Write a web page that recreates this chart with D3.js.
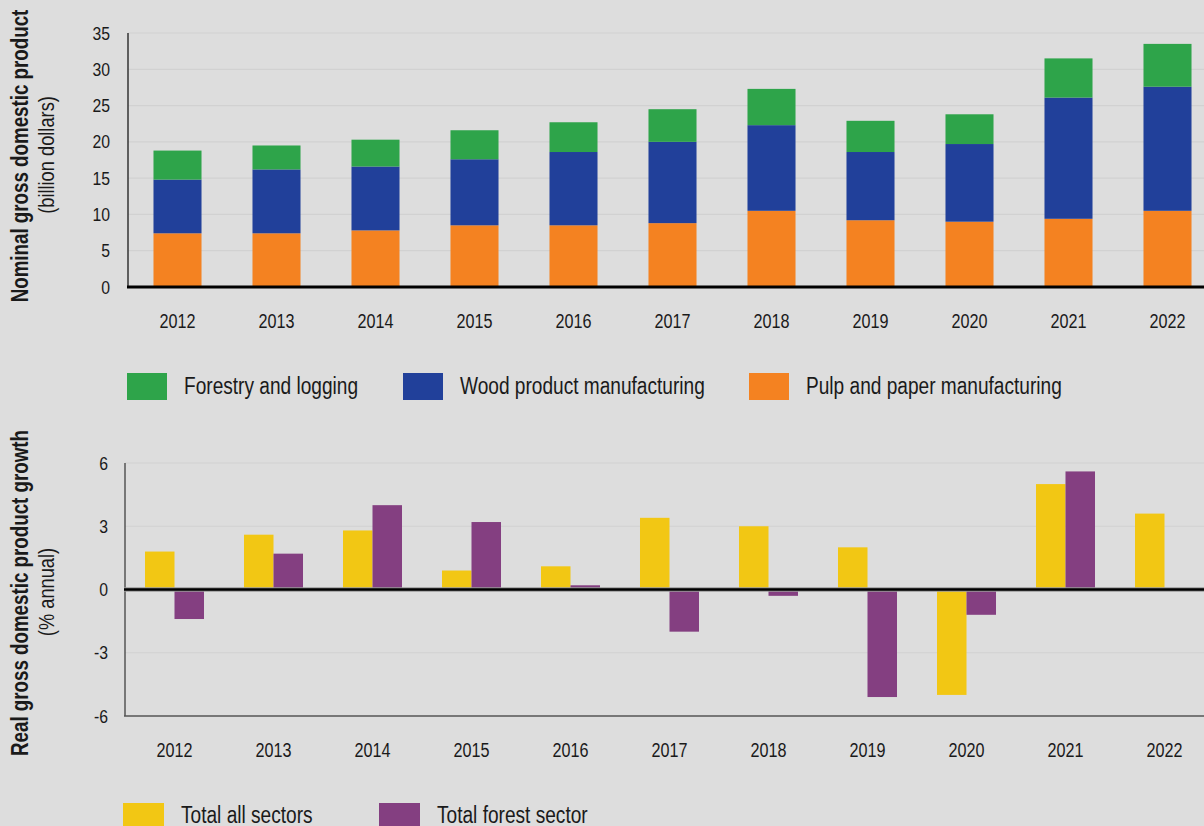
<!DOCTYPE html>
<html>
<head>
<meta charset="utf-8">
<script src="https://cdn.jsdelivr.net/npm/d3@7"></script>
<style>
  html, body { margin: 0; padding: 0; background: #dddddd; }
  svg { display: block; }
  text { font-family: "Liberation Sans", Arial, sans-serif; fill: #1a1a1a; }
</style>
</head>
<body>
<svg id="chart" width="1204" height="826"></svg>
<script>
// Years shown on both panels
const years = ["2012", "2013", "2014", "2015", "2016", "2017", "2018", "2019", "2020", "2021", "2022"];

// Nominal GDP by industry, billion dollars
const pulpPaper = [7.4, 7.4, 7.8, 8.5, 8.5, 8.8, 10.5, 9.2, 9.0, 9.4, 10.5];
const woodProducts = [7.4, 8.8, 8.8, 9.1, 10.1, 11.2, 11.8, 9.4, 10.7, 16.7, 17.1];
const forestryLogging = [4.0, 3.3, 3.7, 4.0, 4.1, 4.5, 5.0, 4.3, 4.1, 5.4, 5.9];

// Real GDP growth, % annual
const allSectors = [1.8, 2.6, 2.8, 0.9, 1.1, 3.4, 3.0, 2.0, -5.0, 5.0, 3.6];
const forestSector = [-1.4, 1.7, 4.0, 3.2, 0.2, -2.0, -0.3, -5.1, -1.2, 5.6, null];

// Axis tick values
const topTicks = [0, 5, 10, 15, 20, 25, 30, 35];
const bottomTicks = [-6, -3, 0, 3, 6];

const colors = {
  forestry: "#2ea44a",
  wood: "#21409a",
  pulp: "#f48221",
  all: "#f2c714",
  forest: "#843f81"
};

const svg = d3.select("#chart");
const W = 1204;
const NARROW = 0.83;

// Squeeze text horizontally to get a condensed face
function condense(sel, f = NARROW) {
  sel.each(function () {
    const len = this.getComputedTextLength();
    this.setAttribute("textLength", (len * f).toFixed(2));
    this.setAttribute("lengthAdjust", "spacingAndGlyphs");
  });
}

// ---------- Upper panel: stacked nominal GDP ----------
const gUp = svg.append("g");
const xTop = d3.scaleBand().domain(years).range([128, 1217]).paddingInner(0.515).paddingOuter(0.2575);
const yTop = d3.scaleLinear().domain([0, 35]).range([287, 33]);

gUp.append("g")
  .selectAll("line").data(topTicks.filter(d => d > 0)).join("line")
  .attr("x1", 128).attr("x2", W)
  .attr("y1", d => yTop(d)).attr("y2", d => yTop(d))
  .attr("stroke", "#d1d1d1").attr("stroke-width", 1.2);

const stackRows = years.map((y, i) => ({ year: y, pulp: pulpPaper[i], wood: woodProducts[i], forestry: forestryLogging[i] }));
const stacked = d3.stack().keys(["pulp", "wood", "forestry"])(stackRows);

gUp.append("g").selectAll("g").data(stacked).join("g")
  .attr("fill", s => colors[s.key])
  .selectAll("rect").data(s => s).join("rect")
  .attr("x", d => xTop(d.data.year))
  .attr("width", xTop.bandwidth())
  .attr("y", d => yTop(d[1]))
  .attr("height", d => yTop(d[0]) - yTop(d[1]));

const yAxisTop = gUp.append("g").attr("transform", "translate(110,0)")
  .call(d3.axisLeft(yTop).tickValues(topTicks).tickSize(0).tickPadding(0));
yAxisTop.select(".domain").remove();
yAxisTop.selectAll("text").attr("font-size", 19).style("font-family", null).attr("fill", "#1a1a1a")
  .call(condense);

gUp.append("line").attr("x1", 128).attr("x2", 128).attr("y1", 33).attr("y2", 287)
  .attr("stroke", "#333").attr("stroke-width", 1.5);
gUp.append("line").attr("x1", 127).attr("x2", W).attr("y1", yTop(0)).attr("y2", yTop(0))
  .attr("stroke", "#000").attr("stroke-width", 2.8);

const xAxisTop = gUp.append("g").attr("transform", "translate(0,314)")
  .call(d3.axisBottom(xTop).tickSize(0).tickPadding(0));
xAxisTop.select(".domain").remove();
xAxisTop.selectAll("text").attr("font-size", 19.5).style("font-family", null).attr("fill", "#1a1a1a")
  .call(condense);

gUp.append("text")
  .attr("transform", "translate(28,156) rotate(-90)")
  .attr("text-anchor", "middle").attr("font-size", 23).attr("font-weight", "bold")
  .text("Nominal gross domestic product")
  .call(condense, 0.815);
gUp.append("text")
  .attr("transform", "translate(54,155) rotate(-90)")
  .attr("text-anchor", "middle").attr("font-size", 22)
  .text("(billion dollars)")
  .call(condense);

// Legend for the upper panel
const legendTop = [
  { label: "Forestry and logging", color: colors.forestry, x: 127 },
  { label: "Wood product manufacturing", color: colors.wood, x: 403 },
  { label: "Pulp and paper manufacturing", color: colors.pulp, x: 749 }
];
const lgTop = gUp.append("g").selectAll("g").data(legendTop).join("g")
  .attr("transform", d => `translate(${d.x},373)`);
lgTop.append("rect").attr("width", 40).attr("height", 27).attr("fill", d => d.color);
lgTop.append("text").attr("x", 57).attr("y", 21).attr("font-size", 23).text(d => d.label)
  .call(condense);

// ---------- Lower panel: real GDP growth ----------
const gLow = svg.append("g");
const xBot = d3.scaleBand().domain(years).range([125, 1214]).paddingInner(0.404).paddingOuter(0.202);
const xSub = d3.scaleBand().domain(["all", "forest"]).range([0, xBot.bandwidth()]);
const yBot = d3.scaleLinear().domain([-6, 6]).range([716, 463]);

gLow.append("g")
  .selectAll("line").data(bottomTicks.filter(d => d !== 0 && d !== -6)).join("line")
  .attr("x1", 125).attr("x2", W)
  .attr("y1", d => yBot(d)).attr("y2", d => yBot(d))
  .attr("stroke", "#d1d1d1").attr("stroke-width", 1.2);

const growthRows = years.map((y, i) => ({ year: y, all: allSectors[i], forest: forestSector[i] }));
gLow.append("g").selectAll("g").data(growthRows).join("g")
  .attr("transform", d => `translate(${xBot(d.year)},0)`)
  .selectAll("rect")
  .data(d => ["all", "forest"].filter(k => d[k] !== null).map(k => ({ key: k, value: d[k] })))
  .join("rect")
  .attr("x", d => xSub(d.key))
  .attr("width", xSub.bandwidth())
  .attr("y", d => yBot(Math.max(0, d.value)))
  .attr("height", d => Math.abs(yBot(d.value) - yBot(0)))
  .attr("fill", d => colors[d.key]);

const yAxisBot = gLow.append("g").attr("transform", "translate(108,0)")
  .call(d3.axisLeft(yBot).tickValues(bottomTicks).tickSize(0).tickPadding(0).tickFormat(d3.format("d")));
yAxisBot.select(".domain").remove();
yAxisBot.selectAll("text").attr("font-size", 19).style("font-family", null).attr("fill", "#1a1a1a")
  .text(d => String(d))
  .call(condense);

gLow.append("line").attr("x1", 125).attr("x2", 125).attr("y1", 463).attr("y2", 716)
  .attr("stroke", "#555").attr("stroke-width", 1.5);
gLow.append("line").attr("x1", 124).attr("x2", W).attr("y1", yBot(-6)).attr("y2", yBot(-6))
  .attr("stroke", "#555").attr("stroke-width", 1.5);
gLow.append("line").attr("x1", 124).attr("x2", W).attr("y1", yBot(0)).attr("y2", yBot(0))
  .attr("stroke", "#999").attr("stroke-width", 4.5);
gLow.append("line").attr("x1", 124).attr("x2", W).attr("y1", yBot(0)).attr("y2", yBot(0))
  .attr("stroke", "#000").attr("stroke-width", 2.6);

const xAxisBot = gLow.append("g").attr("transform", "translate(0,743)")
  .call(d3.axisBottom(xBot).tickSize(0).tickPadding(0));
xAxisBot.select(".domain").remove();
xAxisBot.selectAll("text").attr("font-size", 19.5).style("font-family", null).attr("fill", "#1a1a1a")
  .call(condense);

gLow.append("text")
  .attr("transform", "translate(28,593) rotate(-90)")
  .attr("text-anchor", "middle").attr("font-size", 23).attr("font-weight", "bold")
  .text("Real gross domestic product growth")
  .call(condense, 0.815);
gLow.append("text")
  .attr("transform", "translate(54,592) rotate(-90)")
  .attr("text-anchor", "middle").attr("font-size", 22)
  .text("(% annual)")
  .call(condense);

// Legend for the lower panel
const legendBot = [
  { label: "Total all sectors", color: colors.all, x: 123 },
  { label: "Total forest sector", color: colors.forest, x: 379 }
];
const lgBot = gLow.append("g").selectAll("g").data(legendBot).join("g")
  .attr("transform", d => `translate(${d.x},803)`);
lgBot.append("rect").attr("width", 41).attr("height", 27).attr("fill", d => d.color);
lgBot.append("text").attr("x", 58).attr("y", 20).attr("font-size", 23).text(d => d.label)
  .call(condense);
</script>
</body>
</html>
